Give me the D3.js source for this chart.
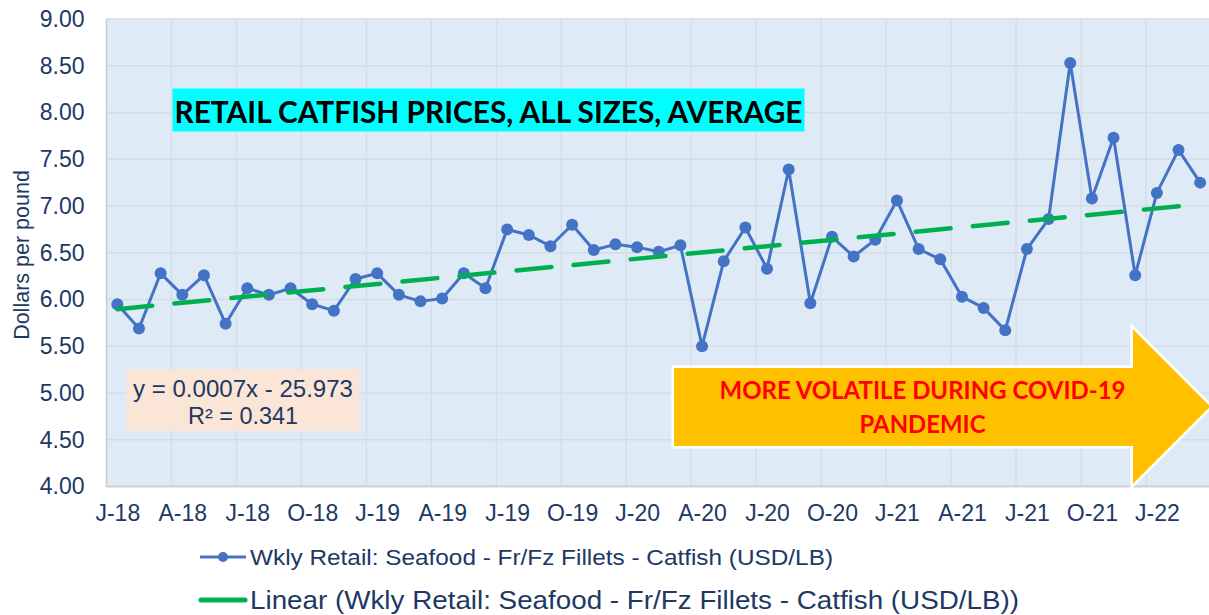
<!DOCTYPE html>
<html>
<head>
<meta charset="utf-8">
<script src="https://cdn.jsdelivr.net/npm/d3@7"></script>
<style>
    body { margin: 0; background: #fff; }
    svg { display: block; }
</style>
</head>
<body>
<div id="draw"></div>
<script>
// monthly retail catfish price, Jan 2018 .. Mar 2022
let months = [
    'Jan-18', 'Feb-18', 'Mar-18', 'Apr-18', 'May-18', 'Jun-18', 'Jul-18', 'Aug-18', 'Sep-18', 'Oct-18', 'Nov-18', 'Dec-18',
    'Jan-19', 'Feb-19', 'Mar-19', 'Apr-19', 'May-19', 'Jun-19', 'Jul-19', 'Aug-19', 'Sep-19', 'Oct-19', 'Nov-19', 'Dec-19',
    'Jan-20', 'Feb-20', 'Mar-20', 'Apr-20', 'May-20', 'Jun-20', 'Jul-20', 'Aug-20', 'Sep-20', 'Oct-20', 'Nov-20', 'Dec-20',
    'Jan-21', 'Feb-21', 'Mar-21', 'Apr-21', 'May-21', 'Jun-21', 'Jul-21', 'Aug-21', 'Sep-21', 'Oct-21', 'Nov-21', 'Dec-21',
    'Jan-22', 'Feb-22', 'Mar-22'
];
let prices = [
    5.95, 5.69, 6.28, 6.05, 6.26, 5.74, 6.12, 6.05, 6.12, 5.95, 5.88, 6.22,
    6.28, 6.05, 5.98, 6.01, 6.28, 6.12, 6.75, 6.69, 6.57, 6.80, 6.53, 6.59,
    6.56, 6.51, 6.58, 5.50, 6.41, 6.77, 6.33, 7.39, 5.96, 6.67, 6.46, 6.64,
    7.06, 6.54, 6.43, 6.03, 5.91, 5.67, 6.54, 6.86, 8.53, 7.08, 7.73, 6.26,
    7.14, 7.60, 7.25
];
let tickLabels = ['J-18', 'A-18', 'J-18', 'O-18', 'J-19', 'A-19', 'J-19', 'O-19', 'J-20', 'A-20', 'J-20', 'O-20', 'J-21', 'A-21', 'J-21', 'O-21', 'J-22'];
let yTicks = [4, 4.5, 5, 5.5, 6, 6.5, 7, 7.5, 8, 8.5, 9];
let seriesName = 'Wkly Retail: Seafood - Fr/Fz Fillets - Catfish (USD/LB)';
let equation = ['y = 0.0007x - 25.973', 'R\u00B2 = 0.341'];
let chartTitle = 'RETAIL CATFISH PRICES, ALL SIZES, AVERAGE';
let arrowText = ['MORE VOLATILE DURING COVID-19', 'PANDEMIC'];

let width = 1209,
    height = 615,
    plot = { left: 106.5, right: 1211, top: 19, bottom: 486.5 };

let navy = '#203864',
    blue = '#4472C4',
    green = '#00B050',
    arial = '"Liberation Sans", Arial, sans-serif',
    calibri = 'Lato, "Open Sans", sans-serif';

let svg = d3.select('#draw')
    .append('svg')
    .attr('width', width)
    .attr('height', height);

let xScale = d3.scaleBand().domain(months).range([plot.left, plot.right]).padding(0),
    yScale = d3.scaleLinear().domain([4, 9]).range([plot.bottom, plot.top]);
let bw = xScale.bandwidth();
let cx = m => xScale(m) + bw / 2;

// plot area
svg.append('rect')
    .attr('x', plot.left).attr('y', plot.top)
    .attr('width', plot.right - plot.left).attr('height', plot.bottom - plot.top)
    .attr('fill', '#DEEAF6');

// grid
let grid = svg.append('g').attr('stroke', '#D6DCE4').attr('stroke-width', 1.3);
grid.selectAll('line.h').data(yTicks).enter().append('line')
    .attr('x1', plot.left).attr('x2', plot.right)
    .attr('y1', d => yScale(d)).attr('y2', d => yScale(d));
let vMonths = months.filter((m, i) => i % 3 == 0 && i > 0);
grid.selectAll('line.v').data(vMonths).enter().append('line')
    .attr('x1', d => xScale(d)).attr('x2', d => xScale(d))
    .attr('y1', plot.top).attr('y2', plot.bottom);

svg.append('path')
    .attr('d', `M${plot.left},${plot.top}V${plot.bottom}H${plot.right}`)
    .attr('fill', 'none').attr('stroke', '#C8CCD2').attr('stroke-width', 1.5);

// axes
let yAxis = svg.append('g')
    .attr('transform', 'translate(' + plot.left + ',0)')
    .call(d3.axisLeft(yScale).tickValues(yTicks).tickFormat(d3.format('.2f')).tickSize(0).tickPadding(22));
let xAxis = svg.append('g')
    .attr('transform', 'translate(0,' + plot.bottom + ')')
    .call(d3.axisBottom(d3.scalePoint().domain(months).range([cx(months[0]), cx(months[months.length - 1])]))
        .tickValues(months.filter((m, i) => i % 3 == 0))
        .tickFormat((m, i) => tickLabels[i])
        .tickSize(0).tickPadding(18));
[yAxis, xAxis].forEach(a => {
    a.select('.domain').remove();
    a.selectAll('text').attr('fill', navy).style('font-family', arial).style('font-size', '23px');
});

svg.append('text')
    .attr('transform', 'translate(29,255) rotate(-90)')
    .attr('text-anchor', 'middle')
    .attr('fill', navy)
    .style('font-family', arial).style('font-size', '21.5px')
    .text('Dollars per pound');

// series
let line = d3.line().x((d, i) => cx(months[i])).y(d => yScale(d));
svg.append('path')
    .datum(prices)
    .attr('d', line)
    .attr('fill', 'none').attr('stroke', blue).attr('stroke-width', 3).attr('stroke-linejoin', 'round');
svg.append('g').selectAll('circle')
    .data(prices).enter().append('circle')
    .attr('cx', (d, i) => cx(months[i]))
    .attr('cy', d => yScale(d))
    .attr('r', 6)
    .attr('fill', blue);

// linear trendline (least squares on month index)
let n = prices.length,
    mx = d3.mean(prices, (d, i) => i),
    my = d3.mean(prices);
let slope = d3.sum(prices, (d, i) => (i - mx) * (d - my)) / d3.sum(prices, (d, i) => (i - mx) * (i - mx)),
    icpt = my - slope * mx;
svg.append('line')
    .attr('x1', cx(months[0])).attr('y1', yScale(icpt))
    .attr('x2', cx(months[n - 1])).attr('y2', yScale(icpt + slope * (n - 1)))
    .attr('stroke', green).attr('stroke-width', 4.5)
    .attr('stroke-linecap', 'round')
    .attr('stroke-dasharray', '35 22.3');

// title box
svg.append('rect')
    .attr('x', 172.5).attr('y', 88.5).attr('width', 632).attr('height', 43)
    .attr('fill', '#00FFFF');
svg.append('text')
    .attr('x', 174.5).attr('y', 123)
    .attr('textLength', 628).attr('lengthAdjust', 'spacingAndGlyphs')
    .style('font-family', calibri).style('font-weight', 700).style('font-size', '31px')
    .attr('fill', '#000')
    .text(chartTitle);

// trend equation box
svg.append('rect')
    .attr('x', 126.7).attr('y', 369.3).attr('width', 232.6).attr('height', 61.7)
    .attr('fill', '#FBE5D6');
svg.selectAll('text.eq').data(equation).enter().append('text')
    .attr('x', 243).attr('y', (d, i) => 396.5 + i * 27.5)
    .attr('text-anchor', 'middle')
    .attr('textLength', (d, i) => i == 0 ? 220 : 110).attr('lengthAdjust', 'spacingAndGlyphs')
    .attr('fill', navy)
    .style('font-family', arial).style('font-size', '23px')
    .text(d => d);

// arrow
let ax0 = 672.7, ax1 = 1131.7, at = 366.7, ab = 447.3, ht = 326, hb = 487, tip = 1212, mid = 406.5;
svg.append('path')
    .attr('d', `M${ax0},${at}H${ax1}V${ht}L${tip},${mid}L${ax1},${hb}V${ab}H${ax0}Z`)
    .attr('fill', '#FFC000').attr('stroke', '#fff').attr('stroke-width', 2.5);
svg.selectAll('text.arrow').data(arrowText).enter().append('text')
    .attr('x', 922.5).attr('y', (d, i) => 399 + i * 33.5)
    .attr('text-anchor', 'middle')
    .attr('textLength', (d, i) => i == 0 ? 406 : 126).attr('lengthAdjust', 'spacingAndGlyphs')
    .attr('fill', '#FF0000')
    .style('font-family', calibri).style('font-weight', 700).style('font-size', '25.5px')
    .text(d => d);

// legend
let legend = svg.append('g');
legend.append('line').attr('x1', 200).attr('x2', 246).attr('y1', 557).attr('y2', 557)
    .attr('stroke', blue).attr('stroke-width', 3);
legend.append('circle').attr('cx', 223).attr('cy', 557).attr('r', 5).attr('fill', blue);
legend.append('text').attr('x', 250).attr('y', 564.5)
    .attr('textLength', 583).attr('lengthAdjust', 'spacingAndGlyphs')
    .attr('fill', navy).style('font-family', arial).style('font-size', '21.5px')
    .text(seriesName);
legend.append('line').attr('x1', 201).attr('x2', 245).attr('y1', 600).attr('y2', 600)
    .attr('stroke', green).attr('stroke-width', 5).attr('stroke-linecap', 'round');
legend.append('text').attr('x', 250).attr('y', 609)
    .attr('textLength', 769).attr('lengthAdjust', 'spacingAndGlyphs')
    .attr('fill', navy).style('font-family', arial).style('font-size', '25px')
    .text('Linear (' + seriesName + ')');
</script>
</body>
</html>
